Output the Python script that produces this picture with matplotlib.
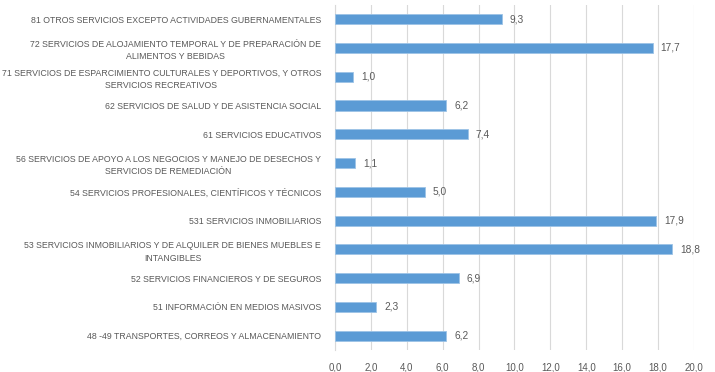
import matplotlib.pyplot as plt

categories = [
    "81 OTROS SERVICIOS EXCEPTO ACTIVIDADES GUBERNAMENTALES",
    "72 SERVICIOS DE ALOJAMIENTO TEMPORAL Y DE PREPARACIÓN DE\nALIMENTOS Y BEBIDAS",
    "71 SERVICIOS DE ESPARCIMIENTO CULTURALES Y DEPORTIVOS, Y OTROS\nSERVICIOS RECREATIVOS",
    "62 SERVICIOS DE SALUD Y DE ASISTENCIA SOCIAL",
    "61 SERVICIOS EDUCATIVOS",
    "56 SERVICIOS DE APOYO A LOS NEGOCIOS Y MANEJO DE DESECHOS Y\nSERVICIOS DE REMEDIACIÓN",
    "54 SERVICIOS PROFESIONALES, CIENTÍFICOS Y TÉCNICOS",
    "531 SERVICIOS INMOBILIARIOS",
    "53 SERVICIOS INMOBILIARIOS Y DE ALQUILER DE BIENES MUEBLES E\nINTANGIBLES",
    "52 SERVICIOS FINANCIEROS Y DE SEGUROS",
    "51 INFORMACIÓN EN MEDIOS MASIVOS",
    "48 -49 TRANSPORTES, CORREOS Y ALMACENAMIENTO",
]
values = [9.3, 17.7, 1.0, 6.2, 7.4, 1.1, 5.0, 17.9, 18.8, 6.9, 2.3, 6.2]
xticks = [0, 2, 4, 6, 8, 10, 12, 14, 16, 18, 20]

plt.rcParams['font.family'] = ['Liberation Sans', 'DejaVu Sans']
txt = '#595959'

fig = plt.figure(figsize=(7.15, 3.72), dpi=100)
ax = fig.add_axes([0.4685, 0.059, 0.502, 0.928])

y = list(range(len(values)))[::-1]
ax.barh(y, values, height=0.35, color='#5B9BD5', edgecolor='#9DC3E6', linewidth=0.6, zorder=3)
for yi, v in zip(y, values):
    ax.text(v + 0.45, yi, f"{v:.1f}".replace('.', ','), va='center', ha='left',
            fontsize=7.3, color=txt)

ax.set_yticks(y)
ax.set_yticklabels(categories, fontsize=6.3, color=txt, linespacing=1.45,
                   multialignment='center')
ax.set_xticks(xticks)
ax.set_xticklabels([f"{t:.1f}".replace('.', ',') for t in xticks], fontsize=7, color=txt)
ax.set_xlim(0, 20)
ax.set_ylim(-0.5, len(values) - 0.5)
ax.grid(axis='x', color='#D9D9D9', linewidth=0.8, zorder=0)
ax.tick_params(axis='x', length=0, pad=9)
ax.tick_params(axis='y', length=0, pad=10)
for s in ['top', 'right', 'bottom']:
    ax.spines[s].set_visible(False)
ax.spines['left'].set_color('#D9D9D9')

fig.savefig('out.png', dpi=100)
